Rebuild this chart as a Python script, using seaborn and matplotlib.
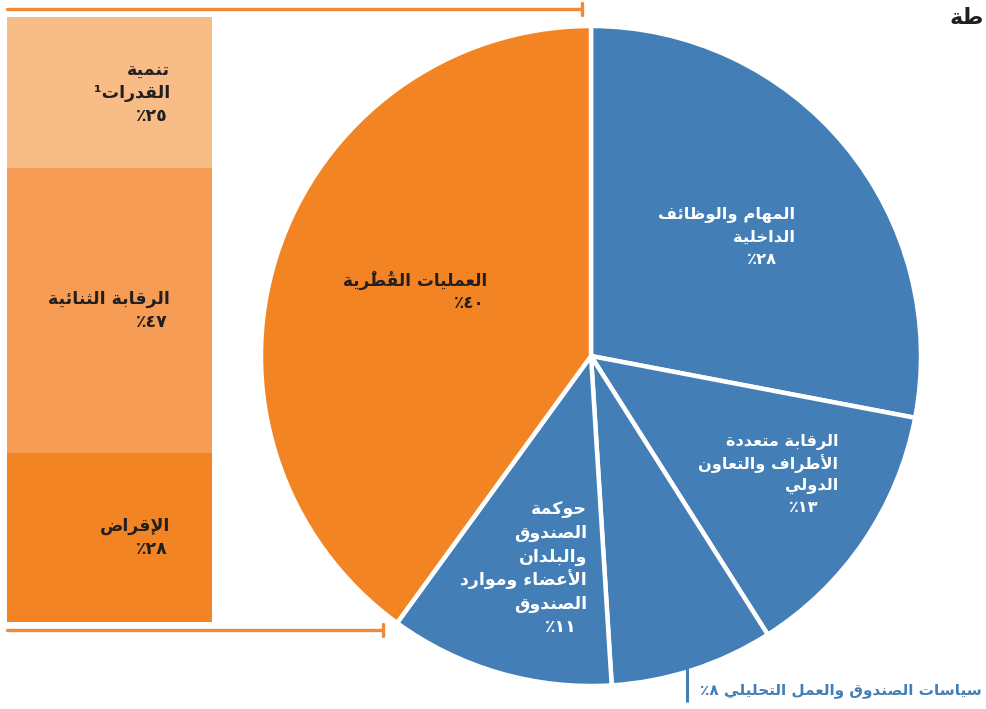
import re
import numpy as np
import matplotlib
matplotlib.use("Agg")
import matplotlib.pyplot as plt
import seaborn as sns

# pie slices, clockwise from 12 o'clock
pie_names = [
    ["المهام والوظائف", "الداخلية"],
    ["الرقابة متعددة", "الأطراف والتعاون", "الدولي"],
    ["سياسات الصندوق والعمل التحليلي"],
    ["حوكمة", "الصندوق", "والبلدان", "الأعضاء وموارد", "الصندوق"],
    ["العمليات القُطْرية"],
]
pie_values = [28, 13, 8, 11, 40]

# breakdown of the country operations slice, bottom to top
bar_names = [["الإقراض"], ["الرقابة الثنائية"], ["تنمية", "القدرات¹"]]
bar_values = [28, 47, 25]

title_tail = "طة"

blue = "#437FB6"
orange = "#F38424"
bar_colors = [orange, "#F79C54", "#F8BC86"]
ink = "#231F20"

# --- minimal arabic shaping (matplotlib does no text shaping) ---
_forms = {
    "ء": (0xFE80, 1), "آ": (0xFE81, 2), "أ": (0xFE83, 2), "ؤ": (0xFE85, 2),
    "إ": (0xFE87, 2), "ئ": (0xFE89, 4), "ا": (0xFE8D, 2), "ب": (0xFE8F, 4),
    "ة": (0xFE93, 2), "ت": (0xFE95, 4), "ث": (0xFE99, 4), "ج": (0xFE9D, 4),
    "ح": (0xFEA1, 4), "خ": (0xFEA5, 4), "د": (0xFEA9, 2), "ذ": (0xFEAB, 2),
    "ر": (0xFEAD, 2), "ز": (0xFEAF, 2), "س": (0xFEB1, 4), "ش": (0xFEB5, 4),
    "ص": (0xFEB9, 4), "ض": (0xFEBD, 4), "ط": (0xFEC1, 4), "ظ": (0xFEC5, 4),
    "ع": (0xFEC9, 4), "غ": (0xFECD, 4), "ف": (0xFED1, 4), "ق": (0xFED5, 4),
    "ك": (0xFED9, 4), "ل": (0xFEDD, 4), "م": (0xFEE1, 4), "ن": (0xFEE5, 4),
    "ه": (0xFEE9, 4), "و": (0xFEED, 2), "ى": (0xFEEF, 2), "ي": (0xFEF1, 4),
}
_lamalef = {"آ": 0xFEF5, "أ": 0xFEF7, "إ": 0xFEF9, "ا": 0xFEFB}


def _mark(c):
    return "\u064B" <= c <= "\u0652"


def shape(text):
    n = len(text)
    out = []
    i = 0
    while i < n:
        c = text[i]
        if c not in _forms:
            out.append(c)
            i += 1
            continue
        j = i - 1
        while j >= 0 and _mark(text[j]):
            j -= 1
        prev = text[j] if j >= 0 else ""
        k = i + 1
        while k < n and _mark(text[k]):
            k += 1
        nxt = text[k] if k < n else ""
        p = prev in _forms and _forms[prev][1] == 4
        if c == "ل" and nxt in _lamalef:
            out.append(chr(_lamalef[nxt] + (1 if p else 0)))
            i = k + 1
            continue
        start, nf = _forms[c]
        nx = nf == 4 and nxt in _forms
        if nf == 4:
            f = 3 if (p and nx) else 2 if nx else 1 if p else 0
        elif nf == 2:
            f = 1 if p else 0
        else:
            f = 0
        out.append(chr(start + f))
        i += 1
    s = "".join(out)
    # visual order: reverse, but keep digit runs left to right
    runs = re.findall(r"[\u0660-\u0669]+|.", s)
    return "".join(reversed(runs))


def ar_num(v):
    return str(v).translate(str.maketrans("0123456789", "٠١٢٣٤٥٦٧٨٩")) + "٪"


sns.set_theme(style="white")
plt.rcParams["font.family"] = ["DejaVu Sans"]

W, H = 987, 709
fig = plt.figure(figsize=(W / 100, H / 100), dpi=100)
ax = fig.add_axes([0, 0, 1, 1])


def Y(py):
    return H - py


cx, cy, r = 591, Y(356), 330
wedges, _ = ax.pie(pie_values, colors=[blue] * 4 + [orange], startangle=90,
                   counterclock=False, center=(cx, cy), radius=r,
                   wedgeprops=dict(edgecolor="white", linewidth=3.2))
ax.set_xlim(0, W)
ax.set_ylim(0, H)
ax.set_aspect("equal")
ax.axis("off")


def put_lines(a, x, y, lines, color, size, step=23, pct_dx=0):
    for i, line in enumerate(lines):
        dx = pct_dx if i == len(lines) - 1 and len(lines) > 1 else 0
        a.annotate(shape(line), xy=(x, y), xytext=(dx, -i * step),
                   textcoords="offset pixels", ha="right", va="center",
                   color=color, fontsize=size, fontweight="bold")


# pie labels (right edge px, first line y px, line step, pct shift, size)
layout = [(795, 215, 22.5, -18, 11.8), (838, 442, 22, -20, 11.6), None,
          (587, 510, 23.4, -10, 12.5), (487, 280, 23, -2, 12.2)]
for names, v, lay, col in zip(pie_names, pie_values, layout, ["white"] * 4 + [ink]):
    if lay is None:
        continue
    x, y0, st, pdx, sz = lay
    put_lines(ax, x, Y(y0), names + [ar_num(v)], col, sz, step=st, pct_dx=pdx)

# outside label for the small slice
ax.plot([687, 687], [Y(660), Y(702)], color=blue, lw=2.2, solid_capstyle="butt")
ax.text(982, Y(690), shape(pie_names[2][0] + " " + ar_num(pie_values[2])), ha="right",
        va="center", color=blue, fontsize=11, fontweight="bold")

# brackets tying the orange slice to the bar
w = wedges[-1]
t_top = np.deg2rad(90)
t_bot = np.deg2rad(max(w.theta1, w.theta2))
xt = cx + r * np.cos(t_top) - 9
xb = cx + r * np.cos(t_bot) - 14
bc = "#F08A38"
ax.plot([7, xt], [Y(9), Y(9)], color=bc, lw=2.4)
ax.plot([xt, xt], [Y(3), Y(15)], color=bc, lw=2.4)
ax.plot([7, xb], [Y(630), Y(630)], color=bc, lw=2.4)
ax.plot([xb, xb], [Y(624), Y(636)], color=bc, lw=2.4)

ax.text(984, Y(18), shape(title_tail), ha="right", va="center", color=ink,
        fontsize=16, fontweight="bold")

# stacked bar
axb = fig.add_axes([7 / W, (H - 622) / H, 205 / W, 605 / H])
cum = np.cumsum(bar_values)
for total, c in reversed(list(zip(cum, bar_colors))):
    sns.barplot(x=[0], y=[total], color=c, width=1, saturation=1, linewidth=0,
                errorbar=None, ax=axb)
axb.set_xlim(-0.5, 0.5)
axb.set_ylim(0, 100)
axb.axis("off")
bx = -0.5 + (170 - 7) / 205
for names, v, top in zip(bar_names, bar_values, cum):
    lines = names + [ar_num(v)]
    yc = top - v / 2
    n = len(lines)
    for i, line in enumerate(lines):
        axb.annotate(shape(line), xy=(bx, yc), xytext=(-2 if i == n - 1 and n > 1 else 0, ((n - 1) / 2 - i) * 23),
                     textcoords="offset pixels", ha="right", va="center",
                     color=ink, fontsize=12.5, fontweight="bold")

fig.savefig("out.png", dpi=100)
